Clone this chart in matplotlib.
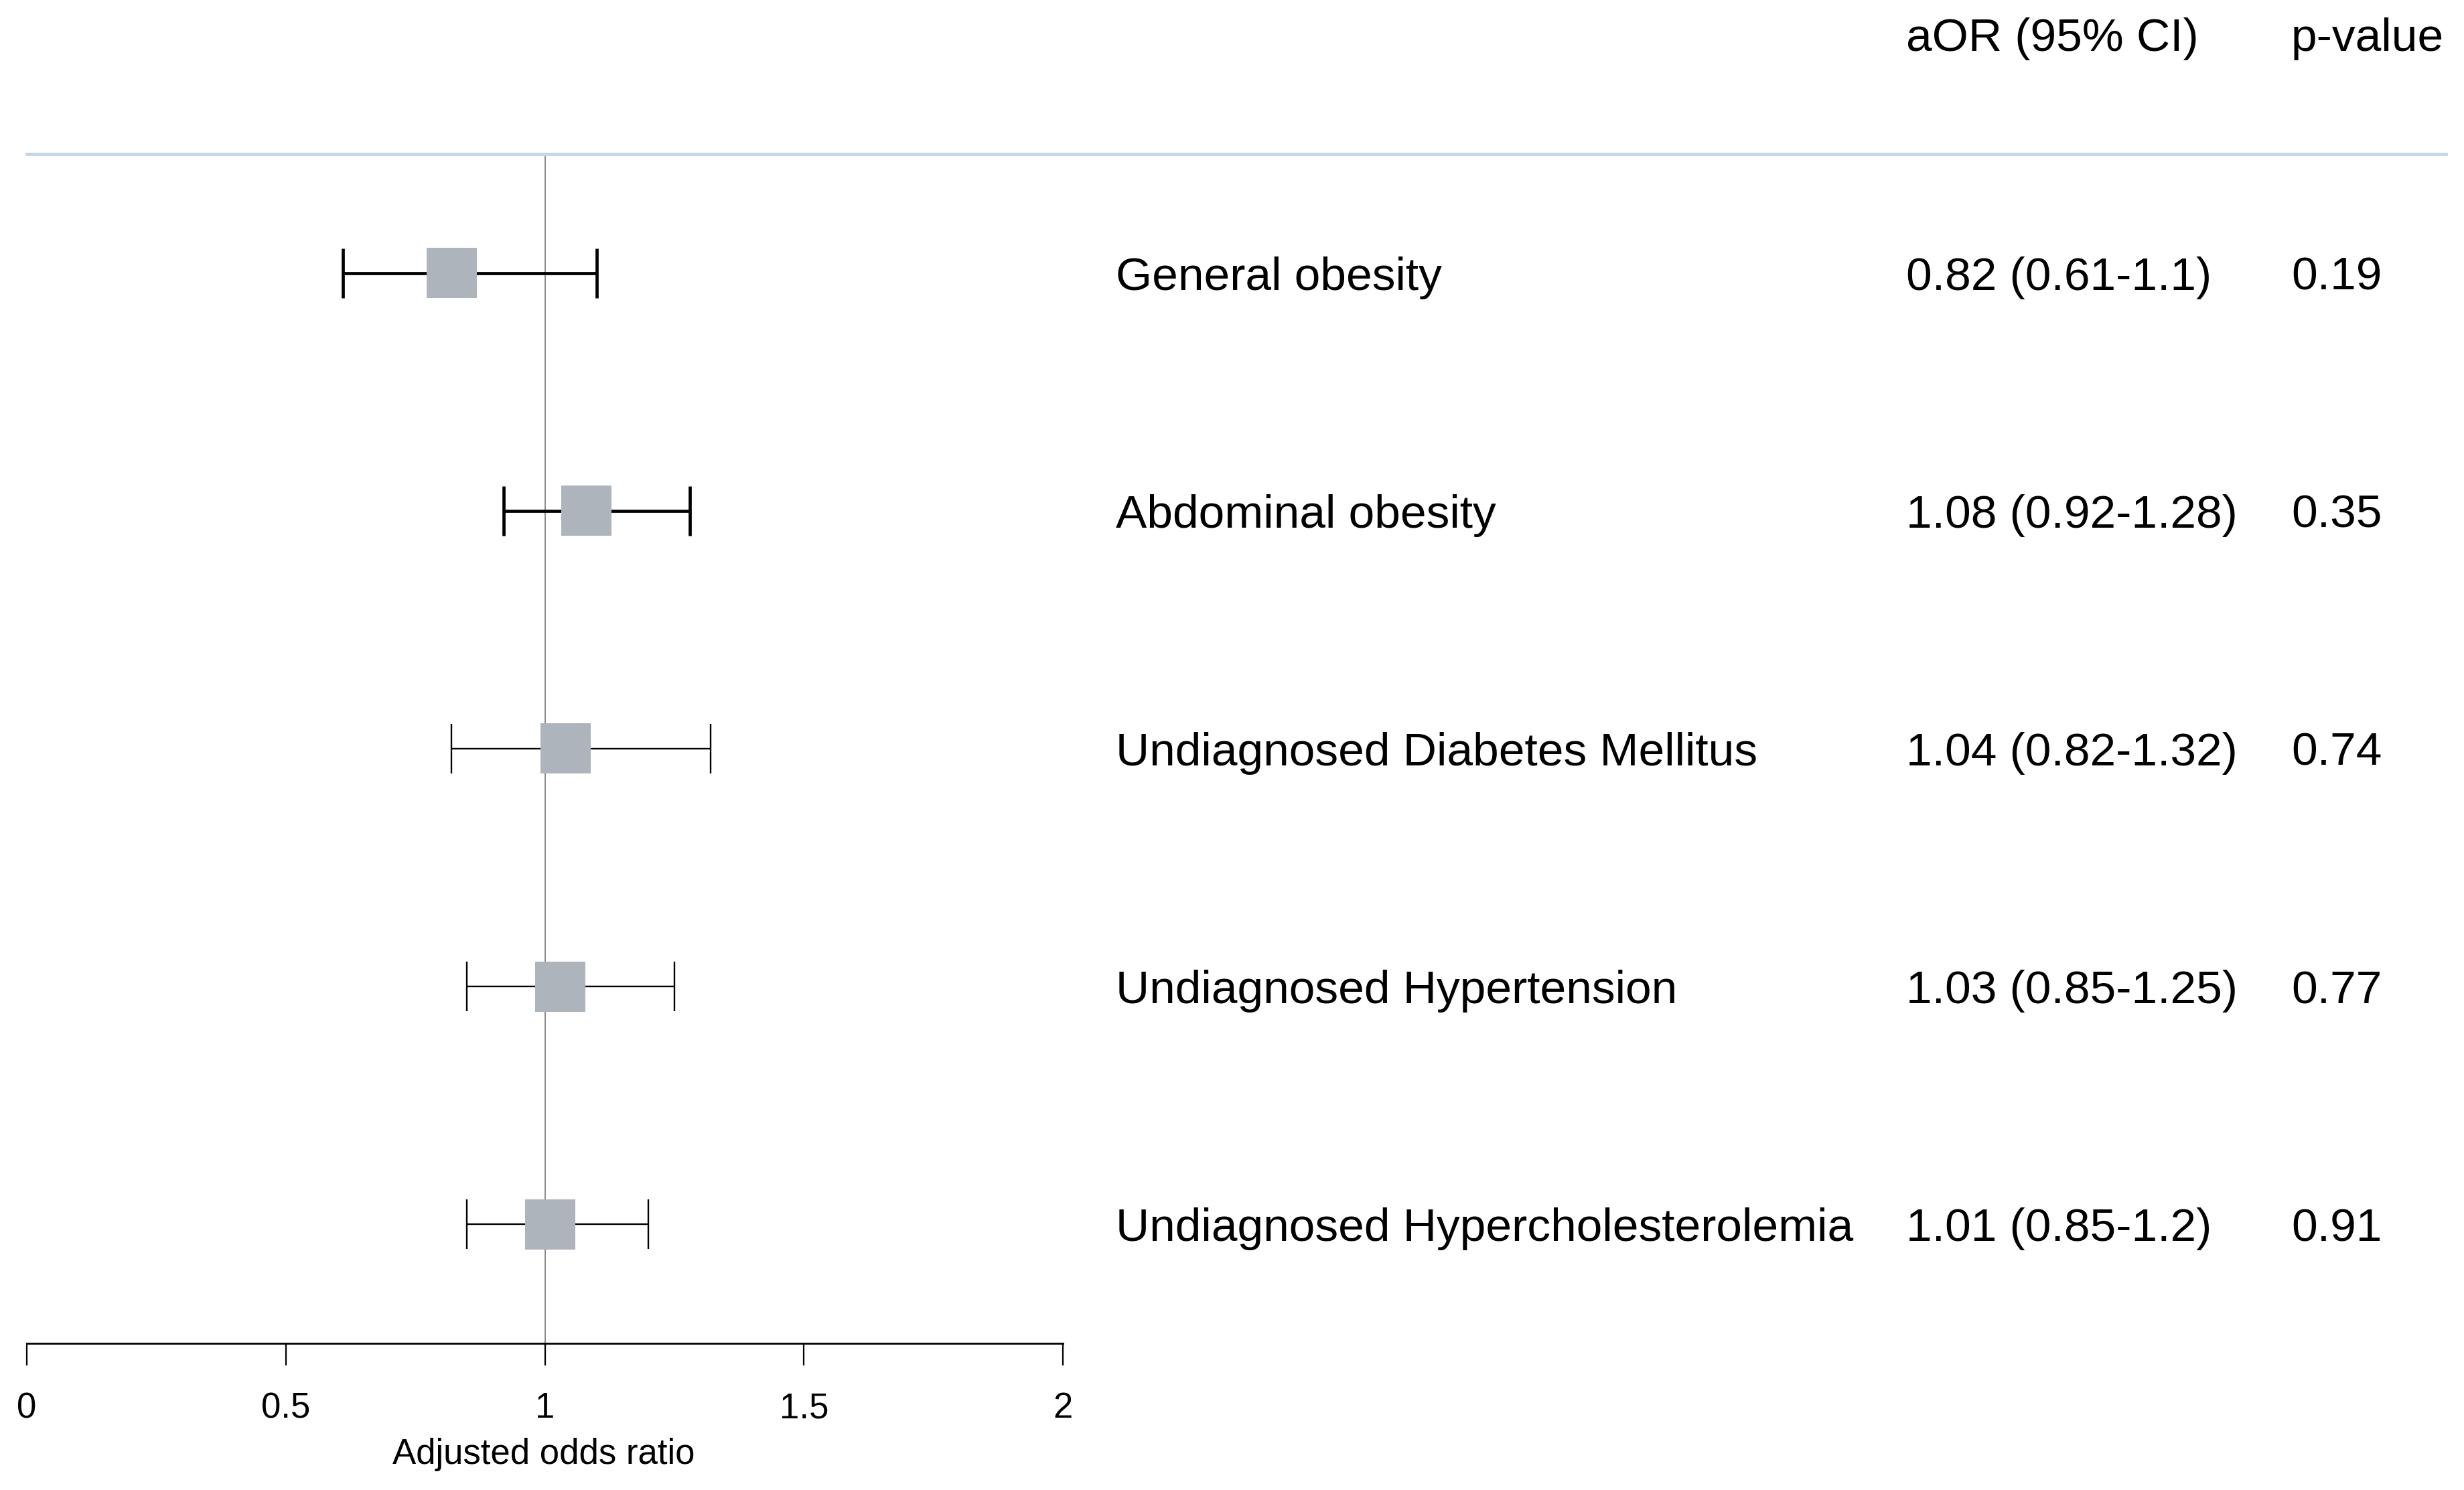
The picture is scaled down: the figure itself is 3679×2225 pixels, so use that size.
import matplotlib
matplotlib.use("Agg")
import matplotlib.pyplot as plt
from matplotlib.lines import Line2D
from matplotlib import transforms

plt.rcParams["font.family"] = ["Liberation Sans", "DejaVu Sans"]

# --- Andmed ---
labels = ["General obesity", "Abdominal obesity", "Undiagnosed Diabetes Mellitus",
          "Undiagnosed Hypertension", "Undiagnosed Hypercholesterolemia"]
aor = [0.82, 1.08, 1.04, 1.03, 1.01]
ci_low = [0.61, 0.92, 0.82, 0.85, 0.85]
ci_high = [1.10, 1.28, 1.32, 1.25, 1.20]
p_values = ["0.19", "0.35", "0.74", "0.77", "0.91"]
aor_text = ["0.82 (0.61-1.1)", "1.08 (0.92-1.28)", "1.04 (0.82-1.32)",
            "1.03 (0.85-1.25)", "1.01 (0.85-1.2)"]
xticks = [0, 0.5, 1, 1.5, 2]
xticklabels = ["0", "0.5", "1", "1.5", "2"]

# joonte paksus ridade kaupa (kaks esimest paksemad)
lws = [3.4, 3.4, 1.7, 1.7, 1.7]

W, H = 3679, 2225
fig = plt.figure(figsize=(W / 100, H / 100), dpi=100)
fig.patch.set_facecolor("white")

# telje asukoht pikslites
x0, x1 = 40, 1587
ytop, ybot = 230, 2006
ax = fig.add_axes([x0 / W, 1 - ybot / H, (x1 - x0) / W, (ybot - ytop) / H])

rows = list(range(1, len(labels) + 1))
ax.set_xlim(0, 2)
ax.set_ylim(5.5, 0.5)

ax.axvline(1, color="#8a8a8a", lw=1.4, zorder=1)

for r, m, lo, hi, lw in zip(rows, aor, ci_low, ci_high, lws):
    ax.errorbar([m], [r], xerr=[[m - lo], [hi - m]], fmt="none", ecolor="black",
                elinewidth=lw, capsize=26.5, capthick=lw, zorder=2)
ax.scatter(aor, rows, marker="s", s=54 ** 2, color="#adb4bb", edgecolors="none", zorder=3)

for side in ["top", "left", "right"]:
    ax.spines[side].set_visible(False)
ax.spines["bottom"].set_linewidth(2.0)
ax.set_yticks([])
ax.set_xticks(xticks)
ax.set_xticklabels(xticklabels)
ax.tick_params(axis="x", direction="out", length=24, width=1.6, pad=28, labelsize=38)

# päise joon
fig.add_artist(Line2D([x0 / W, 3652 / W], [1 - 230 / H, 1 - 230 / H],
                      transform=fig.transFigure, color="#c5d4e6", lw=3.4))

# teljenimi
fig.text(812 / W, 1 - 2172 / H, "Adjusted odds ratio", ha="center", va="center", fontsize=38)

# päised
fig.text(2846 / W, 1 - 58 / H, "aOR (95% CI)", ha="left", va="center", fontsize=50)
fig.text(3421 / W, 1 - 58 / H, "p-value", ha="left", va="center", fontsize=50)

# tekstiveerud ridade kaupa
trans = transforms.blended_transform_factory(fig.transFigure, ax.transData)
trans = transforms.offset_copy(trans, fig=fig, y=-5, units="points")
for r, lab, at, pv in zip(rows, labels, aor_text, p_values):
    fig.text(1666 / W, r, lab, transform=trans, ha="left", va="center", fontsize=50)
    fig.text(2846 / W, r, at, transform=trans, ha="left", va="center", fontsize=50)
    fig.text(3421 / W, r, pv, transform=trans, ha="left", va="center", fontsize=50)

fig.savefig("out.png", dpi=100, facecolor="white")
